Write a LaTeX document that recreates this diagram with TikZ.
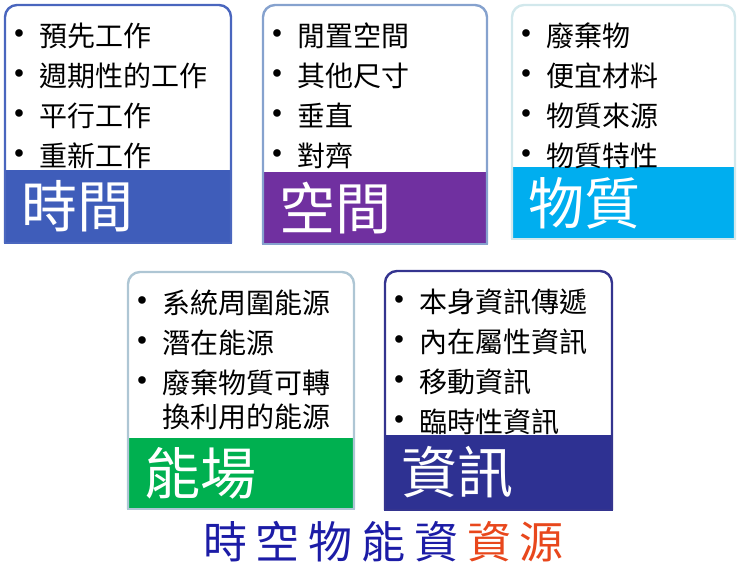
\documentclass[tikz,border=0pt]{standalone}
\usepackage{fontspec}
\newfontfamily\cjk{Noto Sans CJK TC}
\newfontfamily\cjktitre[LetterSpace=20]{Noto Sans CJK TC}

\definecolor{bandeA}{HTML}{3F5DBA}
\definecolor{bordA}{HTML}{4A66BE}
\definecolor{bandeB}{HTML}{7030A0}
\definecolor{bordB}{HTML}{86A2CE}
\definecolor{bandeC}{HTML}{00AEEF}
\definecolor{bordC}{HTML}{D2E8EC}
\definecolor{bandeD}{HTML}{00B050}
\definecolor{bordD}{HTML}{AEC6D4}
\definecolor{bandeE}{HTML}{2E3192}
\definecolor{bordE}{HTML}{34348F}
\definecolor{bleutitre}{HTML}{1C1CA6}
\definecolor{rougetitre}{HTML}{E8471C}

\begin{document}
\begin{tikzpicture}[x=1pt, y=-1pt,
    puce/.style={font=\fontsize{34}{34}\selectfont, inner sep=0},
    ligne/.style={font=\cjk\fontsize{28}{34}\selectfont, anchor=base west, inner sep=0},
    titre/.style={font=\cjk\fontsize{56}{56}\selectfont, text=white, anchor=west, inner sep=0}]

  \useasboundingbox (0,0) rectangle (740,579);

  \foreach \n/\xa/\ya/\xb/\yb/\ybande/\couleur/\bord/\titre/\items in {
    1/5/5/231/243/170/bandeA/bordA/時間/{預先工作,週期性的工作,平行工作,重新工作},
    2/263/5/487/244/172/bandeB/bordB/空間/{閒置空間,其他尺寸,垂直,對齊},
    3/512/5/735/239/167/bandeC/bordC/物質/{廢棄物,便宜材料,物質來源,物質特性},
    4/128/272/354/509/438/bandeD/bordD/能場/{系統周圍能源,潛在能源,廢棄物質可轉\\換利用的能源},
    5/385/271/612/510/435/bandeE/bordE/資訊/{本身資訊傳遞,內在屬性資訊,移動資訊,臨時性資訊}} {

    % Bande de couleur
    \fill[\couleur] (\xa,\ybande) rectangle (\xb,\yb);

    % Contour, coins du haut arrondis
    \draw[\bord, line width=2.4pt, rounded corners=12pt] (\xa,\yb) -- (\xa,\ya) -- (\xb,\ya) -- (\xb,\yb);
    \draw[\bord, line width=2.4pt, line cap=rect] (\xa,\yb) -- (\xb,\yb);

    % Titre dans la bande
    \node[titre] (titre\n) at (\xa+16, {(\ybande+\yb)/2}) {\titre};

    % Liste a puces
    \foreach \ligne [count=\i] in \items {
      \node[puce] (puce\n\i) at (\xa+14, {\ya+31+40*(\i-1)}) {\textbullet};
      \node[ligne] (ligne\n\i) at (\xa+34, {\ya+41+40*(\i-1)}) {\parbox[t]{190pt}{\ligne}};
    }
  }

  % Slogan du bas
  \node[font=\cjktitre\fontsize{44}{44}\selectfont, anchor=west, inner sep=0] (slogan) at (203,542)
    {\textcolor{bleutitre}{時空物能資}\hspace{8.8pt}\textcolor{rougetitre}{資源}};
\end{tikzpicture}
\end{document}
